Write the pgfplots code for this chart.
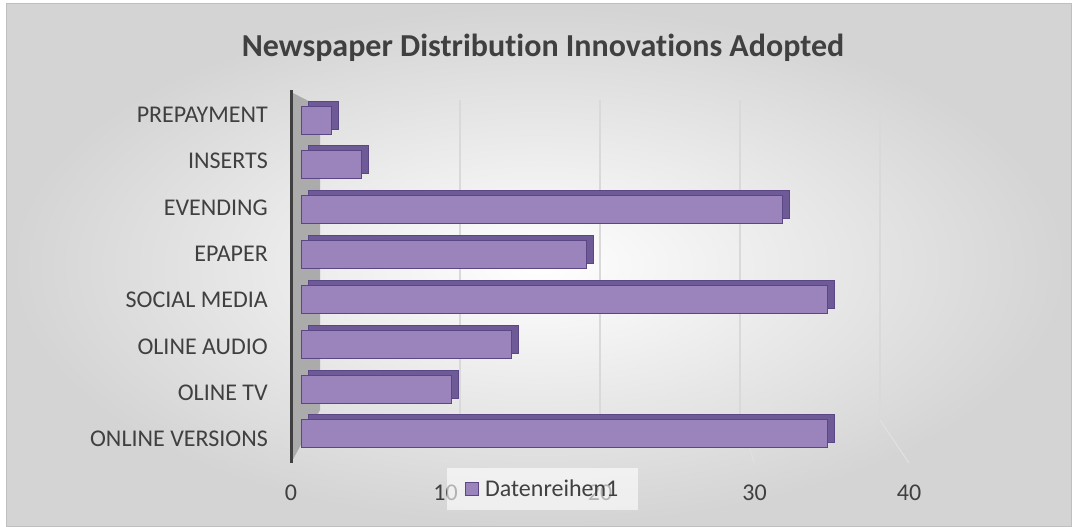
\documentclass[border=0pt]{standalone}
\usepackage{pgfplots}
\pgfplotsset{compat=1.18}
\usepackage{fontspec}
\setmainfont{Carlito}[Ligatures=NoCommon]
\definecolor{barfill}{HTML}{9A84BB}
\definecolor{bartop}{HTML}{6E5A96}
\definecolor{baredge}{HTML}{5B4785}
\definecolor{txt}{HTML}{404040}
\begin{document}
\begin{tikzpicture}[x=1bp,y=1bp]
\useasboundingbox (0,0) rectangle (1072,527);
\shade[inner color=white, outer color=black!17] (6,0) rectangle (1072,523);
\draw[black!25, line width=1bp] (6,0.5) rectangle (1071.5,523);
\node[font=\fontsize{32bp}{38bp}\selectfont\bfseries, text=txt] at (543,479) {Newspaper Distribution Innovations Adopted};
% side wall
\fill[black!33] (291,435) -- (320,420) -- (320,117) -- (291,64) -- cycle;
% back grid
\begin{axis}[at={(320bp,107bp)}, anchor=south west, scale only axis,
  width=560bp, height=320bp, xmin=0, xmax=40, ymin=0, ymax=1,
  axis line style={draw=none}, major tick length=0pt,
  xtick={10,20,30,40}, xticklabels={}, ytick=\empty,
  xmajorgrids, grid style={black!15, line width=1.5bp}]
\end{axis}
\draw[black!12, line width=1.2bp] (460,107) -- (445.5,64) (600,107) -- (600,64) (740,107) -- (754.5,64) (880,107) -- (909,64);
% labels
\begin{axis}[at={(291bp,64.8bp)}, anchor=south west, scale only axis,
  width=618bp, height=370.4bp, xmin=0, xmax=40, ymin=-0.5, ymax=7.5,
  axis line style={draw=none}, major tick length=0pt,
  xtick={0,10,20,30,40}, ytick={0,...,7},
  yticklabels={ONLINE VERSIONS, OLINE TV, OLINE AUDIO, SOCIAL MEDIA, EPAPER, EVENDING, INSERTS, PREPAYMENT},
  tick label style={font=\fontsize{24bp}{29bp}\selectfont, text=txt},
  /pgf/number format/assume math mode=true,
  yticklabel style={anchor=east, inner sep=0pt, xshift=-23bp},
  xticklabel style={anchor=north, inner sep=0pt, yshift=-23bp}]
\end{axis}
\draw[txt, line width=3bp] (291,437) -- (291,64);
% bars
\begin{axis}[at={(301bp,70.6bp)}, anchor=south west, scale only axis,
  width=602bp, height=358.8bp, xmin=0, xmax=40, ymin=-0.5, ymax=7.5,
  xbar, bar width=28bp, axis line style={draw=none},
  xtick=\empty, ytick=\empty, clip=false,
  legend style={at={(0.2425,-0.0323)}, anchor=north west, draw=none,
    fill=white, fill opacity=0.6, text opacity=1,
    font=\fontsize{24bp}{29bp}\selectfont, text=txt,
    inner xsep=18bp, inner ysep=10bp,
    /tikz/every odd column/.append style={column sep=4bp}},
  legend image code/.code={\draw[fill=barfill, draw=baredge, line width=1bp, fill opacity=1] (0bp,-6bp) rectangle (13bp,7bp);}]
\addplot[xbar, bar shift=5bp, xshift=7bp, fill=bartop, draw=baredge, line width=1bp, forget plot]
  coordinates {(35,0) (10,1) (14,2) (35,3) (19,4) (32,5) (4,6) (2,7)};
\addplot[xbar, fill=barfill, draw=baredge, line width=1bp]
  coordinates {(35,0) (10,1) (14,2) (35,3) (19,4) (32,5) (4,6) (2,7)};
\legend{Datenreihen1}
\end{axis}
\end{tikzpicture}
\end{document}
